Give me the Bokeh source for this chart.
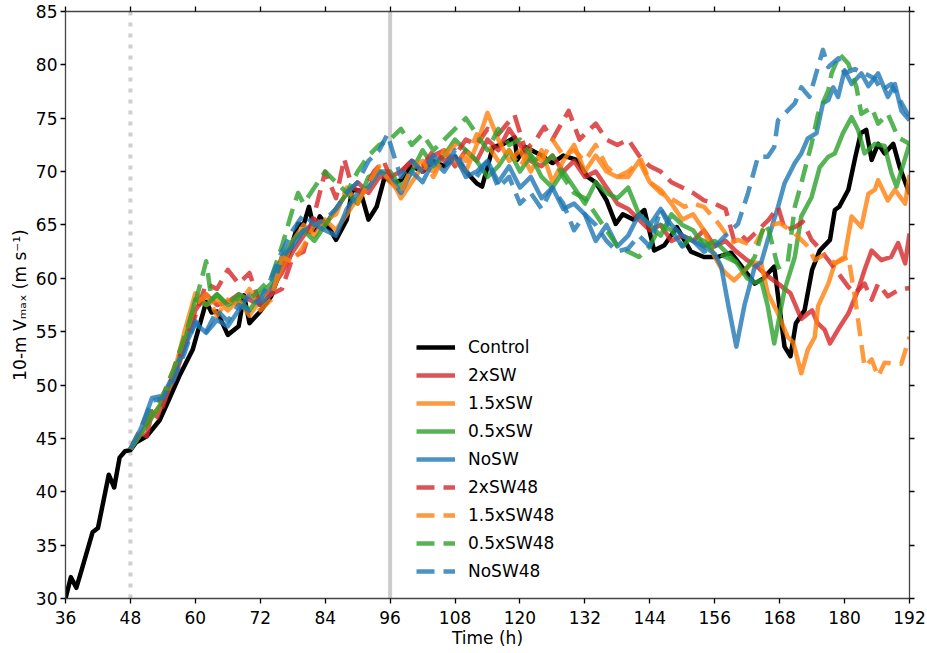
from bokeh.plotting import figure
from bokeh.models import Range1d, FixedTicker, LinearAxis, Span, Legend, CustomLabelingPolicy
from bokeh.embed import file_html
from bokeh.resources import INLINE

# ---------------- data ----------------
ctrl_t = [36, 37, 38, 39, 41, 42, 44, 45, 46, 47, 48, 49, 51, 53.4, 55, 57, 59.5, 62, 63, 64, 66, 68, 69, 70,
          72, 74, 76, 77.5, 79, 80, 81, 82, 83, 85, 86, 88, 89, 90.5, 92, 93.5, 95, 96.5, 98, 100, 102, 104,
          106, 108, 110, 112, 113, 115, 117, 119, 119.5, 121, 124, 126, 128, 130.5, 132.5, 134, 136, 137.7,
          139, 141, 143, 144.8, 146.7, 149, 151.6, 154, 156.6, 159, 161, 163.4, 165, 167, 168.9, 170, 171,
          172.6, 174, 175.4, 177.3, 178.2, 179, 180.7, 182, 183, 184, 185, 186.2, 187.4, 189, 190.2, 192]
ctrl_v = [30, 32, 31, 32.7, 36.2, 36.6, 41.6, 40.4, 43.2, 43.8, 43.9, 44.6, 45.2, 46.7, 48.5, 50.8, 53.3,
          57.8, 56.8, 56.9, 54.7, 55.5, 58.4, 55.8, 56.9, 58.3, 61.1, 62.6, 65.1, 65, 66.7, 64.5, 65.8, 64.5,
          63.6, 65.5, 68.3, 68.2, 65.5, 66.7, 69.5, 68.9, 69.2, 70.5, 70, 71, 70.5, 71.4, 70, 68.9, 68.6, 72.3,
          72.6, 73.2, 71.1, 72.3, 71.5, 70.8, 71.5, 71.1, 69.5, 69, 67.3, 65.1, 66, 65.5, 66.4, 62.6, 63.1,
          64.8, 62.5, 62, 62, 62.4, 61.1, 59.5, 60, 61.1, 53.6, 52.7, 55.8, 57, 60.8, 62.6, 63.6, 66.4, 66.7,
          68.3, 71.4, 73.6, 73.9, 71.1, 72.6, 71.7, 72.6, 70.4, 67.9]

sw2_t = [48, 49, 50, 51, 52, 53, 54, 56, 58, 60, 62, 64, 66, 68, 70, 72, 74, 76, 78, 80, 82, 84, 86, 88, 90,
         92, 94, 96, 98, 100, 102, 104, 106, 108, 110, 112, 114, 116, 118, 120, 122, 124, 126, 128, 130, 132,
         134, 136, 138, 140, 142, 144, 146, 148, 150, 152, 154, 156, 158, 160, 162, 164, 165.8, 167.7, 170,
         172, 174, 175, 176.3, 177.3, 178.8, 180.7, 182.5, 183.7, 185, 186.8, 188.6, 189.9, 191.2, 192]
sw2_v = [44, 44.8, 45.5, 45.2, 47.5, 47, 48.5, 50.5, 53.5, 57, 58.5, 57.5, 57.8, 58.5, 58, 57.5, 59, 60.5,
         62.5, 64, 65.5, 65, 66.5, 68, 69, 68, 69.5, 69.5, 70, 71, 70, 71.5, 72, 70.5, 72, 71, 73, 72, 74,
         72.5, 71, 70.5, 71.5, 70, 71, 69.5, 70, 68.5, 67, 66.5, 65.5, 64.5, 65, 63.5, 64, 63.5, 64.5, 63,
         63.5, 62.5, 61.7, 61, 60.2, 59.5, 58.6, 56.2, 57, 55.8, 55.2, 53.9, 55.2, 56.7, 58.9, 60.8, 62.6,
         61.7, 62, 63.3, 61.4, 64.2]

sw15_t = [48, 50, 52, 54, 56, 58, 60, 62, 64, 66, 68, 70, 72, 74, 76, 78, 80, 82, 84, 86, 88, 90, 92, 94,
          96, 98, 100, 102, 104, 106, 108, 110, 112, 114, 116, 118, 120, 122, 124, 126, 128, 130, 132, 134,
          136, 138, 140, 142, 144, 146, 148, 150, 152, 154, 156, 157, 158, 159.6, 161, 163, 164.6, 165.8,
          167.7, 169.5, 170.5, 172, 173.2, 174.5, 175.1, 177, 178.2, 180, 181.3, 183.1, 184.4, 185.6, 186.2,
          188, 189.3, 191.2, 192]
sw15_v = [44, 45.5, 47, 48.5, 51, 55, 58.6, 57.5, 58, 57, 58, 56.5, 58, 58.5, 61, 63.5, 65, 64, 65.5, 64.5,
          66, 67.5, 68.5, 70, 69.5, 67.5, 69, 70.5, 70, 72, 71, 70, 72.5, 75.5, 73, 71, 72, 70, 72, 69, 71,
          72.5, 70, 71.5, 70, 69.5, 69.5, 71, 69, 68.3, 67, 65.5, 66, 64.5, 62, 61.1, 60.5, 59.8, 60.5, 61.5,
          61.4, 58.6, 56.7, 54.5, 54, 51.1, 53.3, 54.5, 57.4, 59.5, 61.4, 62, 65.8, 64.8, 67.9, 68.3, 69.2,
          67.3, 68.3, 67, 69.7]

sw05_t = [48, 50, 52, 54, 56, 58, 60, 62, 64, 66, 68, 70, 72, 74, 76, 78, 80, 82, 84, 86, 88, 90, 92, 94,
          96, 98, 100, 102, 104, 106, 108, 110, 112, 114, 116, 118, 120, 122, 124, 126, 128, 130, 132, 134,
          136, 138, 140, 142, 144, 146, 148, 150, 152, 154, 156, 158, 160, 162, 163.4, 164.6, 165.8, 167,
          168.9, 170.8, 172, 173.9, 175.4, 177, 178.2, 179.7, 181.3, 182.5, 183.7, 185.6, 187.4, 188.7,
          189.6, 192]
sw05_v = [44, 45.5, 47, 48.5, 51, 54, 58, 57.5, 58.5, 57.5, 58, 57, 58.5, 59.5, 62, 63.5, 64.5, 63.5, 65,
          66.5, 68, 67, 69.5, 70, 70, 68.5, 70, 72, 70.5, 71.5, 73, 72, 71, 69.5, 70.5, 72, 70, 71.5, 69.5,
          68.5, 70, 68.5, 67, 69, 68, 67.5, 68.5, 66, 65, 64, 66, 65, 64.5, 63, 63.5, 62.5, 61.5, 60, 59.6,
          59.8, 57.4, 53.9, 58.9, 62, 65.8, 67.6, 70.4, 71.4, 71.7, 73.6, 75.1, 73.9, 71.7, 72.6, 72.4, 69.8,
          68.6, 72.6]

nosw_t = [48, 50, 52, 54, 56, 58, 60, 62, 64, 66, 68, 70, 72, 74, 76, 78, 80, 82, 84, 86, 88, 90, 92, 94,
          96, 98, 100, 102, 104, 106, 108, 110, 112, 114, 116, 118, 120, 122, 124, 126, 128, 130, 132, 134,
          136, 138, 140, 142, 144, 146, 148, 150, 152, 154, 156, 157.2, 158.5, 160, 161.5, 163.4, 164.6,
          165.8, 167.7, 168.9, 170.8, 172, 173.2, 174.8, 176, 177, 177.9, 178.8, 180, 181.3, 183.1, 184.4,
          186.2, 188, 189.3, 190.5, 192]
nosw_v = [44, 46, 48.8, 49, 51, 53.5, 55.8, 54.9, 56.1, 55.5, 57, 58.5, 57.5, 58.5, 62, 63, 64.5, 65, 64.5,
          64, 66.5, 68, 68.5, 70, 69.5, 68, 70, 69, 71, 70, 71.5, 69.5, 70, 71, 69, 70.5, 68.5, 69.5, 67.5,
          68.5, 66.5, 67, 66, 63.5, 65, 63, 64, 66, 65, 66.5, 65, 64, 63.5, 63, 62.3, 61.1, 57.5, 53.6, 57.5,
          61.1, 61.5, 63.6, 66.7, 68.9, 70.8, 71.7, 73.1, 73.6, 76.4, 76.7, 77.9, 77, 79.5, 78.2, 79.2, 78,
          79.2, 77, 78.2, 75.7, 74.8]

sw2_48_t = [48, 50, 52, 54, 56, 58, 60, 62, 64, 66, 68, 70, 72, 74, 76, 78, 80, 82, 84, 86, 87.5, 89, 91,
            93, 94.8, 96, 98, 100, 102, 104, 106, 108, 110, 112, 114, 116, 119, 121, 123, 124.5, 126, 129,
            131, 134, 136, 138, 140, 142, 144, 146, 148, 150, 152, 154, 156, 158, 159.6, 161, 162, 164.6,
            166, 167.7, 169, 170.8, 172.3, 173.9, 175, 177, 178.8, 180.7, 181.9, 183.7, 185, 186.2, 188,
            189.9, 192]
sw2_48_v = [44, 45.5, 47.5, 48, 51, 54, 56.5, 59.5, 59, 60.8, 59.5, 60.5, 57.5, 58.5, 59, 62, 62.5, 66, 70,
            67.5, 71.2, 68.5, 68, 70, 71, 69.5, 70, 71, 70.5, 72, 71, 71.5, 73, 72.5, 74, 73.5, 75.3, 72,
            73, 74.2, 73, 75.7, 73, 74.5, 73, 72.5, 73, 71.5, 70.5, 70, 69, 68.5, 68, 67.3, 67, 66.5, 63.5,
            64, 63.5, 64.8, 65.5, 66.7, 64.5, 64.8, 65.3, 63.6, 63, 61.7, 60.5, 59.2, 58.6, 59.5, 58, 59.5,
            58.3, 58.9, 59.1]

sw15_48_t = [48, 50, 52, 54, 56, 58, 59, 60, 62, 64, 66, 68, 70, 72, 74, 76, 78, 80, 82, 84, 86, 88, 90,
             92, 94, 96, 98, 100, 102, 104, 106, 108, 110, 112, 114, 116, 118, 120, 122, 124, 126, 128, 130,
             132, 134, 136, 138, 140, 142.4, 144, 146, 148.5, 150.4, 152, 154, 156.6, 158, 159, 160.3,
             163.3, 165.2, 168, 170.8, 173.2, 174.5, 176.1, 178.2, 180.7, 181.9, 183.1, 183.7, 185, 186.2,
             187.4, 189.3, 190.5, 192]
sw15_48_v = [44, 46, 47.5, 49, 51.5, 54.5, 56, 57.5, 58.5, 56.5, 58, 57.5, 59, 57, 58, 62, 61.5, 63, 65,
             65.5, 66, 68.5, 67, 69, 70.5, 69, 68, 70.5, 71, 69.5, 71.5, 72.5, 71, 73.5, 72.5, 71, 72, 70.5,
             72, 71, 73, 71.5, 72, 71, 72.5, 70.5, 69.5, 70, 71.1, 69, 68, 67.3, 66.7, 67, 66.7, 65.2, 64.2,
             63.3, 63.6, 63, 64.8, 65.2, 64.2, 63, 61.7, 62.2, 61.4, 62, 58.3, 53.9, 51.7, 52.4, 50.8, 52.1,
             52, 52, 54.5]

sw05_48_t = [48, 50, 52, 54, 56, 58, 60, 62, 63, 64, 66, 68, 70, 72, 74, 76, 78, 79, 80, 82, 84, 86, 88,
             90, 92, 94, 96, 98, 100, 102, 104, 106, 108, 110, 112, 114, 116, 118, 120, 122, 124, 126, 128,
             130, 132, 134, 136, 138, 140, 142, 144, 146, 148, 150, 152, 154, 156, 158, 160, 162, 163.4,
             165.2, 166, 167.7, 169.5, 170.8, 172, 173.9, 175.1, 177, 177.6, 179.1, 180.7, 182.2, 183.1,
             185, 186.2, 188, 189.9, 192]
sw05_48_v = [44, 45.5, 47.5, 49, 51.5, 54.5, 57.7, 61.6, 58, 58.5, 57.5, 58.5, 58, 59, 60, 63, 66.5, 68, 67,
             68.5, 70, 69, 68, 70, 71.5, 72.5, 73, 74, 72.5, 73.5, 72, 73, 74, 75, 73.5, 72, 74, 72.5, 73,
             71.5, 70.5, 71.5, 69.5, 68, 67.5, 66, 64.5, 63, 62.5, 62, 63, 65, 64.5, 63, 64, 63.5, 62.5, 62,
             61.5, 61, 62, 65.1, 64.5, 61, 61.5, 66.7, 68.9, 72.6, 75.4, 77.6, 79.2, 81, 80.1, 77.9, 75.4, 76,
             74.5, 75.4, 73.2, 72.6]

nosw48_t = [48, 50, 52, 54, 56, 58, 60, 62, 64, 66, 68, 70, 72, 74, 76, 78, 80, 82, 84, 86, 88, 90, 92, 94,
            95.5, 97, 98, 100, 102, 104, 106, 108, 110, 112, 114, 116, 118, 120, 122, 124, 126, 128, 130,
            132, 134, 136, 138, 140, 142, 144, 146, 148, 150, 152, 154, 156, 158, 160.3, 162.1, 164, 165.8,
            167, 167.7, 168.9, 170.8, 172, 173.5, 176, 177, 178.8, 180, 181.9, 183.7, 185.6, 186.8, 188.6,
            189.9, 192]
nosw48_v = [44, 46, 48.5, 48.8, 50.5, 53, 56, 55, 57, 56, 57.5, 57, 58, 60, 62.5, 64.5, 66, 65, 65.5, 66.5,
            68, 69, 71, 72, 73.5, 71, 69.5, 71, 70, 71.5, 70.5, 72, 70, 69.5, 71, 68.5, 69.5, 67, 68, 66.5,
            68.5, 67, 64.5, 66, 65, 63.5, 62.5, 62.8, 64, 63, 66.5, 64.5, 63, 63.5, 62.5, 63, 64, 65.1, 67.9,
            71.4, 71.4, 72.3, 74.8, 75.4, 76.4, 77.9, 77, 81.4, 79.8, 80.6, 79.2, 79.6, 79.2, 78.7, 77.6,
            78.2, 77, 75.1]

x_ticks = [36, 48, 60, 72, 84, 96, 108, 120, 132, 144, 156, 168, 180, 192]
y_ticks = [30, 35, 40, 45, 50, 55, 60, 65, 70, 75, 80, 85]
restart_time = 48
mark_time = 96

# ---------------- figure ----------------
FONT = "DejaVu Sans"
p = figure(frame_width=844, frame_height=587, min_border_left=65, min_border_right=18,
           min_border_top=11, min_border_bottom=40,
           x_range=Range1d(36, 192), y_range=Range1d(30, 85),
           output_backend="svg", toolbar_location=None, x_axis_location=None, y_axis_location=None)
p.xgrid.visible = False
p.ygrid.visible = False
p.outline_line_color = None
p.background_fill_color = "white"

NO_LABELS = """
try { for (const i of indices) { indices.unset(i) } } catch (e) {}
return indices
"""


def style_axis(ax, labels=True):
    ax.axis_line_color = "#444444"
    ax.axis_line_width = 1.3
    ax.major_tick_line_color = "black"
    ax.major_tick_line_width = 1.3
    ax.major_tick_out = 5
    ax.major_tick_in = 0
    ax.minor_tick_out = 0
    ax.minor_tick_in = 0
    ax.major_label_text_font = FONT
    ax.major_label_text_font_size = "17px"
    ax.major_label_text_color = "black"
    ax.axis_label_text_font = FONT
    ax.axis_label_text_font_size = "17px"
    ax.axis_label_text_font_style = "normal"
    ax.axis_label_text_color = "black"
    if not labels:
        ax.major_label_text_font_size = "0px"
        ax.major_label_standoff = 0
        ax.major_label_policy = CustomLabelingPolicy(code=NO_LABELS)


xb = LinearAxis(ticker=FixedTicker(ticks=x_ticks), axis_label="Time (h)")
style_axis(xb)
xb.major_label_standoff = 7
xb.axis_label_standoff = 1
p.add_layout(xb, "below")

xt = LinearAxis(ticker=FixedTicker(ticks=x_ticks))
style_axis(xt, labels=False)
p.add_layout(xt, "above")

yl = LinearAxis(ticker=FixedTicker(ticks=y_ticks), axis_label="10-m Vₘₐₓ (m s⁻¹)")
style_axis(yl)
yl.major_label_standoff = 3
yl.axis_label_standoff = 3
p.add_layout(yl, "left")

yr = LinearAxis(ticker=FixedTicker(ticks=y_ticks))
style_axis(yr, labels=False)
p.add_layout(yr, "right")

# reference times
p.add_layout(Span(location=restart_time, dimension="height", line_color="#cfcfcf", line_width=4,
                  line_dash="4 7", level="underlay"))
p.add_layout(Span(location=mark_time, dimension="height", line_color="#cccccc", line_width=4,
                  level="underlay"))

RED, ORANGE, GREEN, BLUE = "#d62728", "#ff7f0e", "#2ca02c", "#1f77b4"
LW = 4.5
DASH = "18 9"

series = [
    ("Control", ctrl_t, ctrl_v, "black", None, 1.0),
    ("2xSW", sw2_t, sw2_v, RED, None, 0.8),
    ("1.5xSW", sw15_t, sw15_v, ORANGE, None, 0.8),
    ("0.5xSW", sw05_t, sw05_v, GREEN, None, 0.8),
    ("NoSW", nosw_t, nosw_v, BLUE, None, 0.8),
    ("2xSW48", sw2_48_t, sw2_48_v, RED, DASH, 0.8),
    ("1.5xSW48", sw15_48_t, sw15_48_v, ORANGE, DASH, 0.8),
    ("0.5xSW48", sw05_48_t, sw05_48_v, GREEN, DASH, 0.8),
    ("NoSW48", nosw48_t, nosw48_v, BLUE, DASH, 0.8),
]

items = []
for name, t, v, col, dash, alpha in series:
    kw = dict(line_color=col, line_width=LW, line_alpha=alpha, line_join="round")
    if dash:
        kw["line_dash"] = dash
    r = p.line(t, v, **kw)
    items.append((name, [r]))

legend = Legend(items=items, location=(347, 13), orientation="vertical",
                glyph_width=39, glyph_height=20, label_height=20, spacing=8,
                label_standoff=13, padding=4, margin=0,
                label_text_font=FONT, label_text_font_size="17px", label_text_color="black",
                border_line_alpha=0, background_fill_alpha=0)
p.add_layout(legend, "center")

open("out.html", "w").write(file_html(p, INLINE))
